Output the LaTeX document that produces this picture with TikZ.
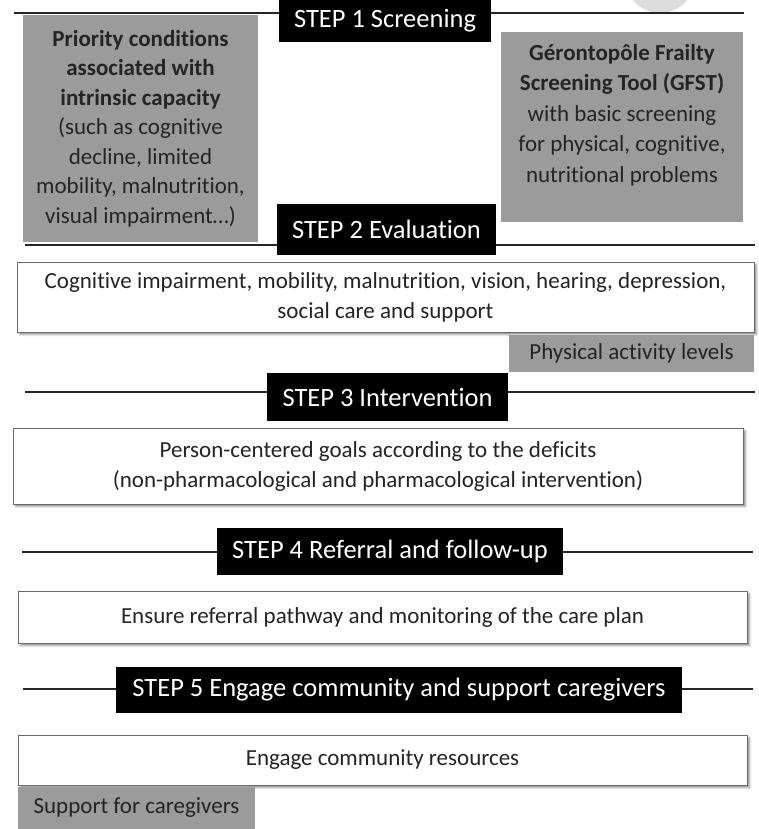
\documentclass[tikz,border=0pt]{standalone}
\usepackage{fontspec}
\setmainfont{Carlito}[Ligatures={NoCommon}]
\usetikzlibrary{shadows.blur}

\definecolor{panelgrey}{RGB}{155,155,155}
\definecolor{inkgrey}{RGB}{36,36,36}
\definecolor{rulegrey}{RGB}{38,38,38}
\definecolor{framegrey}{RGB}{105,105,105}
\definecolor{discgrey}{RGB}{220,220,220}

\tikzset{
  stepbox/.style={fill=black, text=white, inner sep=0pt, align=center,
    font=\fontsize{26.5}{30}\selectfont},
  greypanel/.style={fill=panelgrey, text=inkgrey, inner sep=0pt, align=center,
    font=\fontsize{23}{29.5}\selectfont},
  whitepanel/.style={draw=framegrey, line width=1pt, fill=white, text=inkgrey,
    inner sep=0pt, align=center, font=\fontsize{23}{30}\selectfont,
    blur shadow={shadow xshift=2.5pt, shadow yshift=-2.5pt,
      shadow blur radius=2pt, shadow opacity=45}},
  divider/.style={draw=rulegrey, line width=1.5pt},
}

\begin{document}
\begin{tikzpicture}[x=1pt, y=-1pt]
\useasboundingbox (0,0) rectangle (759,829);

% faint disc at the top edge
\fill[discgrey] (660,-22) circle (35);

% ---- Step 1: screening ----
\node[stepbox, minimum width=212pt, minimum height=42pt] (s1) at (385,21) {STEP 1 Screening};
\node[greypanel, minimum width=235pt, minimum height=227pt] (pc) at (140.5,128.5)
  {\textbf{Priority conditions}\\\textbf{associated with}\\\textbf{intrinsic capacity}\\
   (such as cognitive\\decline, limited\\mobility, malnutrition,\\visual impairment\dots)};
\node[greypanel, minimum width=242pt, minimum height=190pt] (gf) at (622,127) {};
\node[greypanel, fill=none, font=\fontsize{23}{30.5}\selectfont] (gft) at (622,115)
  {\textbf{Gérontopôle Frailty}\\\textbf{Screening Tool (GFST)}\\with basic screening\\
   for physical, cognitive,\\nutritional problems};

% ---- Step 2: evaluation ----
\node[stepbox, minimum width=219pt, minimum height=51pt] (s2) at (386.5,229.5) {STEP 2 Evaluation};
\node[whitepanel, minimum width=737pt, minimum height=70pt] (ev) at (385.5,297)
  {Cognitive impairment, mobility, malnutrition, vision, hearing, depression,\\social care and support};
\node[greypanel, minimum width=245pt, minimum height=37pt] (pa) at (631.5,353.5) {Physical activity levels};

% ---- Step 3: intervention ----
\node[stepbox, minimum width=241pt, minimum height=48pt] (s3) at (387.5,397) {STEP 3 Intervention};
\node[whitepanel, minimum width=730pt, minimum height=76pt] (iv) at (378,466)
  {Person-centered goals according to the deficits\\(non-pharmacological and pharmacological intervention)};

% ---- Step 4: referral ----
\node[stepbox, minimum width=346pt, minimum height=47pt] (s4) at (390,551.5) {STEP 4 Referral and follow-up};
\node[whitepanel, minimum width=729pt, minimum height=52pt] (rf) at (382.5,617)
  {Ensure referral pathway and monitoring of the care plan};

% ---- Step 5: community ----
\node[stepbox, minimum width=566pt, minimum height=46pt] (s5) at (399,690) {STEP 5 Engage community and support caregivers};
\node[whitepanel, minimum width=729pt, minimum height=50pt] (cm) at (382.5,760)
  {Engage community resources};
\node[greypanel, minimum width=237pt, minimum height=42pt] (sc) at (136.5,808) {Support for caregivers};

% ---- dividing rules on either side of each step heading ----
\coordinate (r1a) at (14,13);  \coordinate (r1b) at (744,13);
\coordinate (r2a) at (25,245); \coordinate (r2b) at (755,245);
\coordinate (r3a) at (25,392); \coordinate (r3b) at (755,392);
\coordinate (r4a) at (22,552); \coordinate (r4b) at (753,552);
\coordinate (r5a) at (23,689); \coordinate (r5b) at (753,689);
\foreach \i in {1,...,5}{
  \draw[divider] (r\i a) -- (r\i a -| s\i.west);
  \draw[divider] (r\i b -| s\i.east) -- (r\i b);
}
\end{tikzpicture}
\end{document}
